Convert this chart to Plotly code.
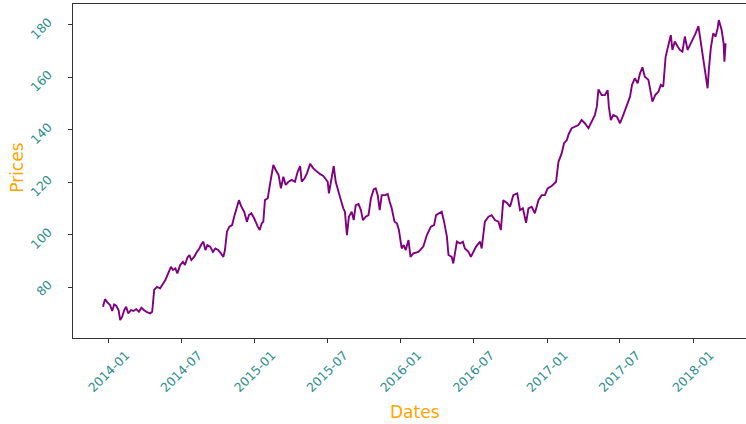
import plotly.graph_objects as go

dates = [
    "2013-12-17", "2013-12-22", "2013-12-28", "2014-01-04", "2014-01-09", "2014-01-14", "2014-01-19", "2014-01-25",
    "2014-01-29", "2014-02-03", "2014-02-08", "2014-02-13", "2014-02-18", "2014-02-25", "2014-03-03", "2014-03-10",
    "2014-03-17", "2014-03-23", "2014-03-30", "2014-04-06", "2014-04-14", "2014-04-19", "2014-04-24", "2014-05-01",
    "2014-05-09", "2014-05-16", "2014-05-22", "2014-05-29", "2014-06-05", "2014-06-10", "2014-06-16", "2014-06-21",
    "2014-06-28", "2014-07-05", "2014-07-10", "2014-07-16", "2014-07-21", "2014-07-26", "2014-08-02", "2014-08-09",
    "2014-08-15", "2014-08-20", "2014-08-25", "2014-08-30", "2014-09-04", "2014-09-11", "2014-09-18", "2014-09-24",
    "2014-10-01", "2014-10-08", "2014-10-14", "2014-10-18", "2014-10-23", "2014-10-29", "2014-11-05", "2014-11-10",
    "2014-11-17", "2014-11-22", "2014-11-28", "2014-12-05", "2014-12-12", "2014-12-17", "2014-12-23", "2014-12-30",
    "2015-01-08", "2015-01-13", "2015-01-18", "2015-01-22", "2015-01-26", "2015-02-02", "2015-02-08", "2015-02-16",
    "2015-02-22", "2015-03-01", "2015-03-07", "2015-03-13", "2015-03-19", "2015-03-26", "2015-04-03", "2015-04-11",
    "2015-04-18", "2015-04-24", "2015-04-28", "2015-05-05", "2015-05-11", "2015-05-19", "2015-05-27", "2015-06-05",
    "2015-06-13", "2015-06-21", "2015-06-27", "2015-07-02", "2015-07-05", "2015-07-10", "2015-07-17", "2015-07-22",
    "2015-07-29", "2015-08-04", "2015-08-10", "2015-08-14", "2015-08-19", "2015-08-24", "2015-08-31", "2015-09-05",
    "2015-09-10", "2015-09-17", "2015-09-23", "2015-09-28", "2015-10-05", "2015-10-12", "2015-10-18", "2015-10-25",
    "2015-10-30", "2015-11-04", "2015-11-09", "2015-11-14", "2015-11-22", "2015-11-29", "2015-12-04", "2015-12-09",
    "2015-12-16", "2015-12-22", "2015-12-27", "2016-01-03", "2016-01-08", "2016-01-13", "2016-01-20", "2016-01-25",
    "2016-02-01", "2016-02-14", "2016-02-26", "2016-03-06", "2016-03-16", "2016-03-24", "2016-03-29", "2016-04-06",
    "2016-04-12", "2016-04-18", "2016-04-25", "2016-04-29", "2016-05-07", "2016-05-11", "2016-05-20", "2016-05-28",
    "2016-06-04", "2016-06-09", "2016-06-18", "2016-06-24", "2016-06-30", "2016-07-07", "2016-07-17", "2016-07-21",
    "2016-07-29", "2016-08-07", "2016-08-15", "2016-08-23", "2016-09-01", "2016-09-07", "2016-09-13", "2016-09-23",
    "2016-09-30", "2016-10-08", "2016-10-18", "2016-10-25", "2016-11-01", "2016-11-09", "2016-11-15", "2016-11-23",
    "2016-12-01", "2016-12-10", "2016-12-18", "2016-12-26", "2017-01-02", "2017-01-12", "2017-01-23", "2017-01-29",
    "2017-02-06", "2017-02-12", "2017-02-19", "2017-02-24", "2017-03-03", "2017-03-11", "2017-03-20", "2017-03-28",
    "2017-04-05", "2017-04-14", "2017-04-22", "2017-04-30", "2017-05-05", "2017-05-09", "2017-05-17", "2017-05-25",
    "2017-06-01", "2017-06-04", "2017-06-09", "2017-06-15", "2017-06-24", "2017-07-02", "2017-07-10", "2017-07-19",
    "2017-07-27", "2017-08-01", "2017-08-08", "2017-08-15", "2017-08-21", "2017-08-27", "2017-09-02", "2017-09-11",
    "2017-09-16", "2017-09-21", "2017-09-28", "2017-10-06", "2017-10-12", "2017-10-18", "2017-10-24", "2017-10-31",
    "2017-11-06", "2017-11-10", "2017-11-16", "2017-11-23", "2017-11-29", "2017-12-05", "2017-12-11", "2017-12-18",
    "2017-12-24", "2017-12-31", "2018-01-07", "2018-01-14", "2018-01-20", "2018-01-26", "2018-01-30", "2018-02-06",
    "2018-02-09", "2018-02-14", "2018-02-20", "2018-02-26", "2018-03-03", "2018-03-06", "2018-03-13", "2018-03-18",
    "2018-03-20", "2018-03-23",
]

prices = [
    72.5, 75.4, 74.2, 73.1, 70.9, 73.4, 72.9, 71.2,
    67.4, 68.7, 71.2, 72.5, 70.0, 71.2, 70.9, 71.6,
    70.6, 72.1, 71.2, 70.4, 70.0, 70.6, 78.9, 80.1,
    79.5, 81.0, 82.7, 85.2, 87.7, 86.5, 87.1, 85.2,
    88.4, 89.6, 88.4, 91.2, 92.2, 90.3, 91.5, 93.4,
    94.7, 96.3, 97.3, 94.1, 96.0, 95.4, 93.4, 94.7,
    94.1, 92.8, 91.5, 94.1, 101.1, 103.0, 103.6, 106.8,
    110.6, 113.1, 110.6, 108.7, 104.9, 107.4, 108.1, 106.2,
    103.0, 101.7, 104.3, 104.9, 113.1, 113.8, 119.5, 126.5,
    124.6, 122.7, 117.6, 122.0, 118.9, 120.1, 120.8, 120.1,
    124.0, 126.1, 120.1, 121.4, 123.3, 126.9, 125.2, 124.0,
    123.0, 122.3, 121.0, 120.1, 115.7, 119.5, 126.1, 120.1,
    115.7, 113.1, 110.0, 108.7, 99.8, 106.8, 108.7, 105.5,
    111.2, 111.6, 109.3, 105.5, 106.8, 107.4, 113.8, 117.2,
    117.6, 115.0, 109.3, 115.0, 115.0, 115.4, 112.5, 110.0,
    104.9, 104.3, 101.7, 94.7, 96.0, 94.1, 97.9, 91.5,
    92.8, 93.4, 95.4, 99.8, 103.0, 103.6, 107.4, 108.1,
    108.7, 104.9, 99.2, 92.2, 91.5, 89.0, 97.3, 96.6,
    97.3, 94.7, 93.4, 91.5, 93.4, 95.4, 97.3, 94.7,
    104.9, 106.8, 107.4, 105.5, 104.9, 101.7, 113.1, 111.9,
    110.6, 115.0, 115.7, 109.3, 110.0, 104.5, 110.0, 110.6,
    108.1, 113.1, 115.0, 115.0, 117.6, 118.5, 120.1, 127.7,
    130.9, 134.8, 136.0, 138.4, 140.5, 141.1, 141.7, 143.6,
    142.4, 140.5, 143.0, 145.5, 148.7, 155.3, 153.1, 153.1,
    155.0, 148.7, 143.6, 145.5, 144.9, 142.4, 145.5, 149.3,
    152.5, 157.0, 159.5, 157.6, 161.4, 163.7, 160.1, 158.9,
    154.4, 150.6, 153.1, 154.4, 157.0, 156.3, 167.7, 172.8,
    176.0, 170.3, 173.5, 171.6, 170.3, 169.7, 175.4, 170.3,
    172.2, 174.1, 176.6, 179.4, 172.8, 166.5, 162.0, 155.7,
    162.7, 171.0, 176.6, 175.4, 178.5, 181.7, 177.9, 172.8,
    165.8, 172.8,
]

x_tick_dates = ["2014-01-01", "2014-07-01", "2015-01-01", "2015-07-01", "2016-01-01",
                "2016-07-01", "2017-01-01", "2017-07-01", "2018-01-01"]
x_tick_labels = ["2014-01", "2014-07", "2015-01", "2015-07", "2016-01",
                 "2016-07", "2017-01", "2017-07", "2018-01"]
y_tick_values = [80, 100, 120, 140, 160, 180]
y_tick_labels = ["80", "100", "120", "140", "160", "180"]
x_label = "Dates"
y_label = "Prices"

FONT = "DejaVu Sans"
TICK_COLOR = "#2f8f8f"
LABEL_COLOR = "#FFA500"
AXIS_COLOR = "#333333"

fig = go.Figure()
fig.add_trace(go.Scatter(
    x=dates, y=prices, mode="lines",
    line=dict(color="#800080", width=1.9),
    showlegend=False, hoverinfo="skip",
))

fig.update_layout(
    width=746, height=424,
    margin=dict(l=73, r=0, t=4, b=86, autoexpand=False),
    paper_bgcolor="white", plot_bgcolor="white",
    font=dict(family=FONT),
    xaxis=dict(
        range=["2013-10-03", "2018-05-13"],
        tickmode="array", tickvals=x_tick_dates, ticktext=x_tick_labels,
        tickangle=-45, tickfont=dict(size=12.5, color=TICK_COLOR, family=FONT),
        ticks="outside", ticklen=4, tickcolor=AXIS_COLOR,
        ticklabelshift=17, automargin=False,
        showline=True, linecolor=AXIS_COLOR, linewidth=1, mirror=True,
        showgrid=False, zeroline=False,
    ),
    yaxis=dict(
        range=[60.6, 187.8],
        tickmode="array", tickvals=y_tick_values, ticktext=y_tick_labels,
        tickangle=-45, tickfont=dict(size=12.5, color=TICK_COLOR, family=FONT),
        ticks="outside", ticklen=4, tickcolor=AXIS_COLOR,
        ticklabelstandoff=17, ticklabelshift=-4, automargin=False,
        showline=True, linecolor=AXIS_COLOR, linewidth=1, mirror=False,
        showgrid=False, zeroline=False,
    ),
    annotations=[
        dict(text=x_label, xref="paper", yref="paper", x=0.508, y=-0.222,
             xanchor="center", yanchor="middle", showarrow=False,
             font=dict(size=17, color=LABEL_COLOR, family=FONT)),
        dict(text=y_label, xref="paper", yref="paper", x=-0.083, y=0.51,
             xanchor="center", yanchor="middle", showarrow=False, textangle=-90,
             font=dict(size=17, color=LABEL_COLOR, family=FONT)),
    ],
)

fig.write_html(
    "out.html",
    config={"displayModeBar": False},
    post_script="document.body.style.margin='0';document.body.style.overflow='hidden';",
)
